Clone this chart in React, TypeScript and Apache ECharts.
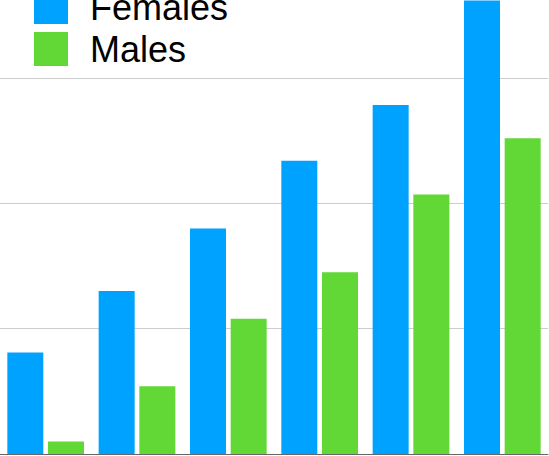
import React, { useEffect, useRef } from "react";
import * as echarts from "echarts";

const categories = ["G1", "G2", "G3", "G4", "G5", "G6"];
const females = [8.1, 13.0, 18.0, 23.4, 27.85, 36.2];
const males = [1.0, 5.4, 10.8, 14.5, 20.7, 25.2];
const seriesNames = ["Females", "Males"];
const yMax = 36.23;

export default function App() {
  const ref = useRef<HTMLDivElement>(null);
  useEffect(() => {
    if (!ref.current) return;
    const chart = echarts.init(ref.current, undefined, { renderer: "svg" });
    chart.setOption({
      animation: false,
      backgroundColor: "#ffffff",
      legend: {
        orient: "vertical",
        left: 34,
        top: -11,
        padding: 0,
        itemWidth: 34,
        itemHeight: 34,
        itemGap: 6,
        icon: "rect",
        data: seriesNames,
        textStyle: {
          fontFamily: "Liberation Sans, Arial, sans-serif",
          fontSize: 36,
          lineHeight: 34,
          color: "#000000",
          padding: [0, 0, 0, 17],
        },
      },
      grid: { left: 0, right: 1, top: 0, bottom: 2, containLabel: false },
      xAxis: {
        type: "category",
        data: categories,
        axisLine: { show: true, lineStyle: { color: "#666666", width: 1 } },
        axisTick: { show: false },
        axisLabel: { show: false },
      },
      yAxis: {
        type: "value",
        min: 0,
        max: yMax,
        interval: 10,
        axisLine: { show: false },
        axisTick: { show: false },
        axisLabel: { show: false },
        splitLine: {
          showMinLine: false,
          showMaxLine: false,
          lineStyle: { color: "#cccccc", width: 1 },
        },
      },
      series: [
        {
          name: seriesNames[0],
          type: "bar",
          data: females,
          barWidth: 36,
          barGap: "13%",
          itemStyle: { color: "#00A2FF" },
        },
        {
          name: seriesNames[1],
          type: "bar",
          data: males,
          barWidth: 36,
          barGap: "13%",
          itemStyle: { color: "#61D836" },
        },
      ],
    });
    return () => chart.dispose();
  }, []);
  return (
    <div
      ref={ref}
      style={{ position: "absolute", left: 0, top: 0, width: 549, height: 456 }}
    />
  );
}
